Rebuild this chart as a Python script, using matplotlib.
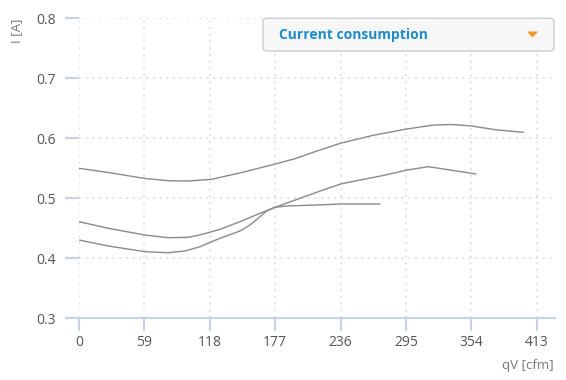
import matplotlib
matplotlib.use("Agg")
import matplotlib.pyplot as plt
from matplotlib.patches import FancyBboxPatch, Polygon

plt.rcParams['font.family'] = ['Open Sans', 'DejaVu Sans']

# values
x_ticks = [0, 59, 118, 177, 236, 295, 354, 413]
y_ticks = [0.3, 0.4, 0.5, 0.6, 0.7, 0.8]

curve1_x = [0, 26.4, 59.5, 80.5, 98.6, 119.7, 146.8, 176.8, 194.8, 215, 236.3,
            265.5, 295.6, 319.6, 336.2, 354.2, 376.8, 400.8]
curve1_y = [0.550, 0.543, 0.533, 0.5293, 0.5288, 0.5317, 0.543, 0.557, 0.566, 0.579, 0.592,
            0.605, 0.6155, 0.622, 0.623, 0.6205, 0.614, 0.610]

curve2_x = [0, 26.4, 59.5, 80.5, 98.6, 109.1, 119.7, 127.2, 145.2, 163.3, 176.8,
            199.3, 217.4, 236.3, 255, 274.5, 295.6, 315.1, 331.7, 358.2]
curve2_y = [0.461, 0.450, 0.4388, 0.4343, 0.435, 0.439, 0.4443, 0.4483, 0.461, 0.475, 0.485,
            0.500, 0.512, 0.524, 0.531, 0.538, 0.547, 0.5527, 0.548, 0.5405]

curve3_x = [0, 26.4, 59.5, 80.5, 95.6, 109.1, 119.7, 127.2, 145.2, 154.2, 163.3,
            169.3, 176.8, 187.3, 217.4, 236.3, 271.5]
curve3_y = [0.4305, 0.4205, 0.411, 0.4093, 0.4122, 0.4193, 0.4277, 0.4333, 0.4455, 0.4555, 0.4693,
            0.4788, 0.485, 0.4872, 0.489, 0.4905, 0.4905]

axis_col = '#c5d3e3'
grid_col = '#d8d8d8'
text_col = '#555555'
line_col = '#8a8a8a'

fig = plt.figure(figsize=(5.66, 3.8), dpi=100)
ax = fig.add_axes([79 / 566, (380 - 318.3) / 380, (555 - 79) / 566, 300 / 380])

for cx, cy in [(curve1_x, curve1_y), (curve2_x, curve2_y), (curve3_x, curve3_y)]:
    ax.plot(cx, cy, color=line_col, lw=1.0, solid_capstyle='round', solid_joinstyle='round')

ax.set_xlim(0, 429.4)
ax.set_ylim(0.3, 0.8)
ax.set_xticks(x_ticks)
ax.set_yticks(y_ticks)
ax.set_xticklabels([str(v) for v in x_ticks])
ax.set_yticklabels(['%.1f' % v for v in y_ticks])

ax.grid(True, color=grid_col, lw=1.1, linestyle=(0, (1.2, 3.2)))
ax.set_axisbelow(True)

for s in ['top', 'right', 'left']:
    ax.spines[s].set_visible(False)
ax.spines['bottom'].set_color(axis_col)
ax.spines['bottom'].set_linewidth(1.5)

ax.tick_params(axis='y', length=10, width=1.5, color=axis_col, pad=6.5,
               labelsize=10, labelcolor=text_col)
ax.tick_params(axis='x', length=9.6, width=1.5, color=axis_col, pad=2.4,
               labelsize=10, labelcolor=text_col)

fig.text(17 / 566, 1 - 31 / 380, 'I [A]', rotation=90, ha='center', va='center',
         fontsize=9.5, color='#777777')
fig.text(554 / 566, 1 - 365 / 380, 'qV [cfm]', ha='right', va='center',
         fontsize=9.5, color='#777777')

# dropdown-like selector box
box = FancyBboxPatch((263 / 566, 1 - 51 / 380), (554 - 263) / 566, 32.7 / 380,
                     boxstyle='round,pad=0,rounding_size=0.008',
                     transform=fig.transFigure, facecolor='#f7f7f7',
                     edgecolor='#cccccc', lw=1.0)
fig.patches.append(box)
fig.text(279 / 566, 1 - 35 / 380, 'Current consumption', ha='left', va='center',
         fontsize=10, fontweight='bold', color='#1e8bc9')
tri = Polygon([(527 / 566, 1 - 31.5 / 380), (538 / 566, 1 - 31.5 / 380),
               (532.5 / 566, 1 - 37.5 / 380)], closed=True,
              transform=fig.transFigure, facecolor='#f5961e', edgecolor='none')
fig.patches.append(tri)

fig.savefig('out.png', dpi=100)
